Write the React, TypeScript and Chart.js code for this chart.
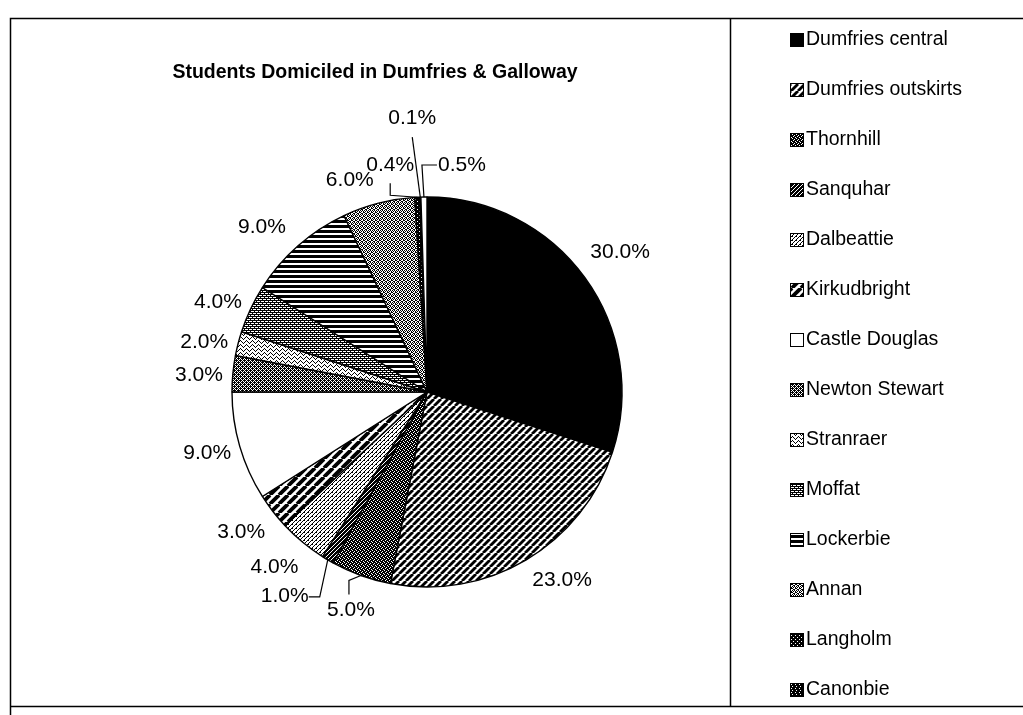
import React, { useEffect, useRef } from "react";
import { Chart, registerables } from "chart.js";

Chart.register(...registerables);

const TITLE = "Students Domiciled in Dumfries & Galloway";

const AREAS = [
  "Dumfries central",
  "Dumfries outskirts",
  "Thornhill",
  "Sanquhar",
  "Dalbeattie",
  "Kirkudbright",
  "Castle Douglas",
  "Newton Stewart",
  "Stranraer",
  "Moffat",
  "Lockerbie",
  "Annan",
  "Langholm",
  "Canonbie",
  "",
];

const SHARES = [30, 23, 5, 1, 4, 3, 9, 3, 2, 4, 9, 6, 0.4, 0.1, 0.5];

// ---- styling (fill patterns) ----
type Fill = string | { rows: string[] } | { diag: number; lw: number };
const FILLS: Fill[] = [
  "#000000",
  { diag: 7, lw: 2.8 },
  { rows: ["#.##", "###.", ".###", "##.#"] },
  { rows: ["##.#", "#.##", ".###", "###."] },
  { rows: ["#..#", "..#.", ".#..", "#..."] },
  { diag: 9, lw: 3.8 },
  "#ffffff",
  { rows: ["##.#", "#.#.", ".###", "#.#."] },
  { rows: ["#.....", ".#...#", "..#.#.", "...#.."] },
  { rows: ["########", "#...#...", "########", "..#...#."] },
  { rows: ["#", "#", "#", ".", "."] },
  { rows: ["#..#", ".##.", "#.#.", ".#.#"] },
  { rows: ["####", "#.##", "####", "###."] },
  { rows: ["###.", "####", ".###", "####"] },
  "#ffffff",
];

// ---- label layout (style) ----
const LABEL_RADIUS = 230;
type LabelLayout = { nudge?: [number, number]; label?: [number, number]; path?: [number, number][] };
const LABEL_LAYOUT: LabelLayout[] = [
  { nudge: [7, -5] },
  { nudge: [18, -10] },
  { label: [-10, 35], path: [[0, 0], [-12, 5], [-12, 19]] },
  { label: [-43, 36], path: [[0, 0], [-8, 37], [-19, 37]] },
  { nudge: [-6, -2] },
  { nudge: [-4, -1] },
  { nudge: [1, -3] },
  { nudge: [1, 5] },
  { nudge: [0, 7] },
  { nudge: [-1, 8] },
  { nudge: [-13, 8] },
  { nudge: [-20, 11] },
  { label: [-27, -32], path: [[0, 0], [-27, -2], [-27, -14]] },
  { label: [-8, -79], path: [[0, 0], [-8, -60]] },
  { label: [38, -32], path: [[0, 0], [-2, -32], [13, -32]] },
];

const FONT = 'Arial, "Liberation Sans", sans-serif';

function makeFill(ctx: CanvasRenderingContext2D, f: Fill): string | CanvasPattern {
  if (typeof f === "string") return f;
  const tile = document.createElement("canvas");
  if ("rows" in f) {
    const h = f.rows.length;
    const w = f.rows[0].length;
    tile.width = w;
    tile.height = h;
    const g = tile.getContext("2d")!;
    g.fillStyle = "#fff";
    g.fillRect(0, 0, w, h);
    g.fillStyle = "#000";
    f.rows.forEach((row, y) => {
      for (let x = 0; x < row.length; x++) if (row[x] === "#") g.fillRect(x, y, 1, 1);
    });
  } else {
    const s = f.diag;
    tile.width = s;
    tile.height = s;
    const g = tile.getContext("2d")!;
    g.fillStyle = "#fff";
    g.fillRect(0, 0, s, s);
    g.strokeStyle = "#000";
    g.lineWidth = f.lw;
    for (const o of [-s, 0, s]) {
      g.beginPath();
      g.moveTo(o, s);
      g.lineTo(o + s, 0);
      g.stroke();
    }
  }
  return ctx.createPattern(tile, "repeat")!;
}

const framePlugin = {
  id: "frame",
  beforeDraw(chart: any) {
    const c: CanvasRenderingContext2D = chart.ctx;
    c.save();
    c.fillStyle = "#fff";
    c.fillRect(0, 0, chart.width, chart.height);
    c.strokeStyle = "#000";
    c.lineWidth = 1.5;
    c.beginPath();
    c.moveTo(1023, 18.5);
    c.lineTo(10.5, 18.5);
    c.lineTo(10.5, 715);
    c.moveTo(10.5, 706.5);
    c.lineTo(1023, 706.5);
    c.moveTo(730.5, 18.5);
    c.lineTo(730.5, 706.5);
    c.stroke();
    c.font = `bold 19.5px ${FONT}`;
    c.fillStyle = "#000";
    c.textAlign = "center";
    c.textBaseline = "middle";
    c.fillText(TITLE, 375, 73);
    c.restore();
  },
};

const labelPlugin = {
  id: "pieLabels",
  afterDatasetsDraw(chart: any) {
    const c: CanvasRenderingContext2D = chart.ctx;
    const meta = chart.getDatasetMeta(0);
    const values: number[] = chart.data.datasets[0].data;
    c.save();
    c.font = `21px ${FONT}`;
    c.fillStyle = "#000";
    c.strokeStyle = "#000";
    c.lineWidth = 1.2;
    c.textAlign = "center";
    c.textBaseline = "middle";
    meta.data.forEach((arc: any, i: number) => {
      const p = arc.getProps(["x", "y", "startAngle", "endAngle", "outerRadius"], true);
      const mid = (p.startAngle + p.endAngle) / 2;
      const lay = LABEL_LAYOUT[i] || {};
      const text = values[i].toFixed(1) + "%";
      let lx: number, ly: number;
      if (lay.label) {
        const ex = p.x + Math.cos(mid) * p.outerRadius;
        const ey = p.y + Math.sin(mid) * p.outerRadius;
        lx = ex + lay.label[0];
        ly = ey + lay.label[1];
        if (lay.path) {
          c.beginPath();
          lay.path.forEach(([dx, dy], k) => {
            if (k === 0) c.moveTo(ex + dx, ey + dy);
            else c.lineTo(ex + dx, ey + dy);
          });
          c.stroke();
        }
      } else {
        const n = lay.nudge || [0, 0];
        lx = p.x + Math.cos(mid) * LABEL_RADIUS + n[0];
        ly = p.y + Math.sin(mid) * LABEL_RADIUS + n[1];
      }
      c.fillText(text, lx, ly);
    });
    c.restore();
  },
};

const legendPlugin = {
  id: "sideLegend",
  afterDraw(chart: any) {
    const c: CanvasRenderingContext2D = chart.ctx;
    const labels: string[] = chart.data.labels;
    const fills = chart.data.datasets[0].backgroundColor;
    c.save();
    c.font = `19.5px ${FONT}`;
    c.textAlign = "left";
    c.textBaseline = "middle";
    let row = 0;
    labels.forEach((lab, i) => {
      if (!lab) return;
      const cy = 40 + row * 50;
      c.fillStyle = fills[i];
      c.fillRect(790.5, cy - 6.5, 13, 13);
      c.strokeStyle = "#000";
      c.lineWidth = 1;
      c.strokeRect(790.5, cy - 6.5, 13, 13);
      c.fillStyle = "#000";
      c.fillText(lab, 806, cy);
      row++;
    });
    c.restore();
  },
};

export default function App() {
  const ref = useRef<HTMLCanvasElement>(null);
  useEffect(() => {
    const canvas = ref.current!;
    const ctx = canvas.getContext("2d")!;
    const fills = FILLS.map((f) => makeFill(ctx, f));
    const chart = new Chart(canvas, {
      type: "pie",
      data: {
        labels: AREAS,
        datasets: [
          {
            data: SHARES,
            backgroundColor: fills as any,
            borderColor: "#000",
            borderWidth: 1.4,
            radius: 195,
          } as any,
        ],
      },
      options: {
        responsive: false,
        animation: false,
        devicePixelRatio: 1,
        events: [],
        layout: { padding: { left: 227, right: 396, top: 192, bottom: 123 } },
        plugins: {
          legend: { display: false },
          title: { display: false },
          tooltip: { enabled: false },
        },
      },
      plugins: [framePlugin, labelPlugin, legendPlugin],
    });
    return () => chart.destroy();
  }, []);
  return (
    <div style={{ position: "absolute", left: 0, top: 0, width: 1023, height: 715, background: "#fff" }}>
      <canvas ref={ref} width={1023} height={715} style={{ display: "block" }} />
    </div>
  );
}
